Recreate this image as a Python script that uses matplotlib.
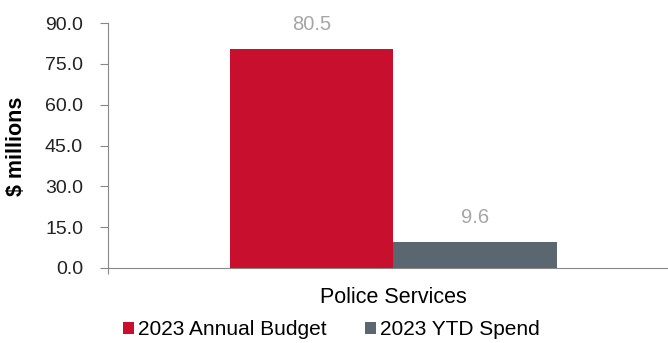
import matplotlib
matplotlib.use("Agg")
import matplotlib.pyplot as plt
from matplotlib.patches import Patch

plt.rcParams['font.family'] = ['Liberation Sans', 'DejaVu Sans']

category = "Police Services"
series_names = ["2023 Annual Budget", "2023 YTD Spend"]
values = [80.5, 9.6]
colors = ["#C8102E", "#5B6770"]
yticks = [0, 15, 30, 45, 60, 75, 90]

fig = plt.figure(figsize=(6.68, 3.43), dpi=100)
ax = fig.add_axes([0.1617, 0.2187, 0.8383, 0.7142])

w = 0.292
offsets = [-w / 2, w / 2]
for v, c, o in zip(values, colors, offsets):
    ax.bar(o, v, width=w, color=c, zorder=3)
    ax.text(o, v + 8.8, f"{v:.1f}", ha='center', va='center', color='#A6A6A6',
            fontsize=14.5, clip_on=False)

ax.set_xlim(-0.5098, 0.4902)
ax.set_ylim(0, 90)
ax.set_yticks(yticks)
ax.set_yticklabels([f"{t:.1f}" for t in yticks], fontsize=14, color='#222222')
ax.set_xticks([-0.5098])
ax.set_xticklabels([""])
ax.tick_params(axis='y', length=6, color='#888888', width=0.8, pad=12)
ax.tick_params(axis='x', length=4, color='#888888', width=0.8)
for s in ['top', 'right']:
    ax.spines[s].set_visible(False)
for s in ['left', 'bottom']:
    ax.spines[s].set_color('#888888')
    ax.spines[s].set_linewidth(0.8)

fig.text(0.025, 0.574, "$ millions", rotation=90, ha='center', va='center',
         fontsize=15.5, fontweight='bold')
fig.text(0.589, 0.134, category, ha='center', va='center', fontsize=15.5)

handles = [Patch(facecolor=c) for c in colors]
fig.legend(handles, series_names, loc='center', bbox_to_anchor=(0.496, 0.038), ncol=2,
           frameon=False, fontsize=15, handlelength=0.55, handleheight=0.55,
           handletextpad=0.2, columnspacing=1.8, borderpad=0.1)

fig.savefig("out.png", dpi=100)
